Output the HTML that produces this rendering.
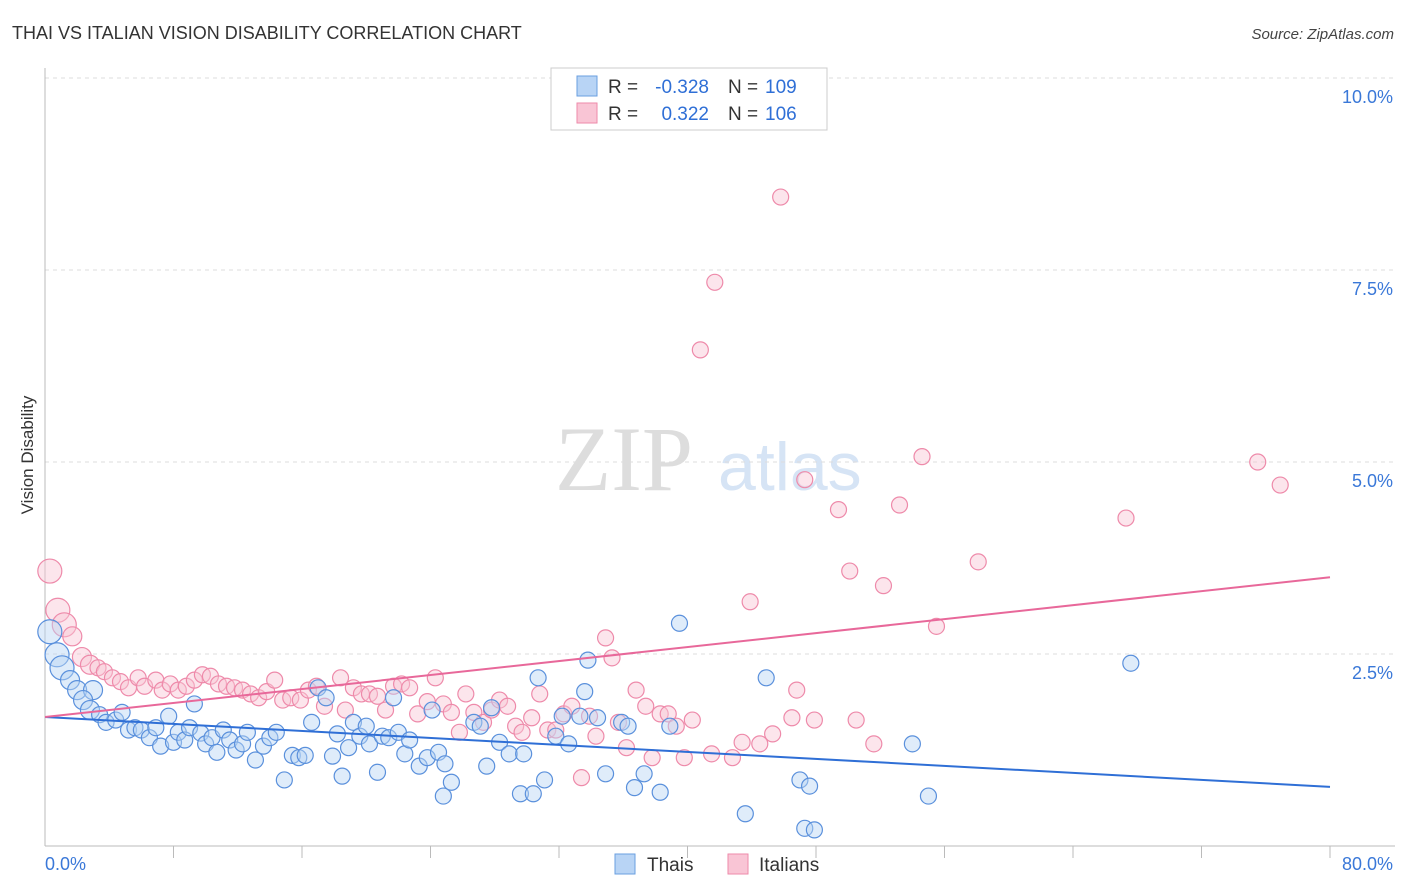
<!DOCTYPE html>
<html><head><meta charset="utf-8"><style>
body{margin:0;background:#fff;font-family:"Liberation Sans",sans-serif;}
svg{display:block}
</style></head><body>
<svg id="chart" width="1406" height="892" xmlns="http://www.w3.org/2000/svg">
<text x="12" y="39" font-size="18" fill="#333">THAI VS ITALIAN VISION DISABILITY CORRELATION CHART</text>
<text x="1394" y="39" font-size="15" fill="#444" text-anchor="end" font-style="italic">Source: ZipAtlas.com</text>
<text transform="translate(33,455) rotate(-90)" font-size="17" fill="#333" text-anchor="middle">Vision Disability</text>
<g>
<text x="555" y="490" font-size="92" fill="#ddd" font-family="Liberation Serif,serif">ZIP</text>
<text x="718" y="490" font-size="68" fill="#d6e4f5">atlas</text>
</g>
<g id="grid"></g><g id="marks"></g>
<g>
<rect x="551" y="68" width="276" height="62" fill="#fff" stroke="#ccc"/>
<rect x="577" y="76" width="20" height="20" fill="#b8d4f5" stroke="#6a9fe0"/>
<rect x="577" y="103" width="20" height="20" fill="#f9c5d5" stroke="#ee8aaa"/>
<text x="608" y="93" font-size="19" fill="#333">R =</text>
<text x="709" y="93" font-size="19" fill="#2f6fd6" text-anchor="end">-0.328</text>
<text x="728" y="93" font-size="19" fill="#333">N =</text>
<text x="765" y="93" font-size="19" fill="#2f6fd6">109</text>
<text x="608" y="120" font-size="19" fill="#333">R =</text>
<text x="709" y="120" font-size="19" fill="#2f6fd6" text-anchor="end">0.322</text>
<text x="728" y="120" font-size="19" fill="#333">N =</text>
<text x="765" y="120" font-size="19" fill="#2f6fd6">106</text>
</g>
<g>
<rect x="615" y="854" width="20" height="20" fill="#b8d4f5" stroke="#6a9fe0"/>
<text x="647" y="871" font-size="19" fill="#333">Thais</text>
<rect x="728" y="854" width="20" height="20" fill="#f9c5d5" stroke="#ee8aaa"/>
<text x="759" y="871" font-size="19" fill="#333">Italians</text>
</g>
</svg>
<script>
const yTicks=[2.5,5,7.5,10];
const yTickLabels=["2.5%","5.0%","7.5%","10.0%"];
const xTicks=[0,8,16,24,32,40,48,56,64,72,80];
const thaiX=[0.3,0.75,1.06,1.56,2.0,2.99,2.37,2.8,3.4,3.8,4.4,4.8,5.2,5.6,6.0,6.5,6.9,7.2,7.7,8.0,8.3,8.7,9.0,9.3,9.7,10.0,10.4,10.7,11.1,11.5,11.9,12.3,12.6,13.1,13.6,14.0,14.4,14.9,15.4,15.8,16.2,16.6,17.0,17.5,17.9,18.2,18.5,18.9,19.2,19.6,20.0,20.2,20.7,21.0,21.4,21.7,22.0,22.4,22.7,23.3,23.8,24.1,24.5,24.9,24.8,25.3,26.7,27.1,27.5,27.8,28.3,28.9,29.6,29.8,30.4,30.7,31.1,31.8,32.2,32.6,33.3,33.6,33.8,34.4,34.9,35.9,36.3,36.7,37.3,38.3,38.9,39.5,43.6,44.9,47.0,47.6,47.3,47.9,54.0,55.0,67.6];
const thaiY=[2.79,2.49,2.32,2.16,2.03,2.03,1.90,1.77,1.71,1.61,1.64,1.74,1.51,1.54,1.51,1.41,1.54,1.30,1.69,1.35,1.48,1.38,1.54,1.85,1.47,1.33,1.41,1.22,1.51,1.38,1.25,1.33,1.48,1.12,1.30,1.41,1.48,0.86,1.18,1.15,1.18,1.61,2.06,1.93,1.17,1.46,0.91,1.28,1.61,1.43,1.56,1.33,0.96,1.43,1.41,1.93,1.48,1.20,1.38,1.04,1.15,1.77,1.22,1.07,0.65,0.83,1.61,1.56,1.04,1.80,1.35,1.20,0.68,1.20,0.68,2.19,0.86,1.43,1.69,1.33,1.69,2.01,2.42,1.67,0.94,1.61,1.56,0.76,0.94,0.70,1.56,2.90,0.42,2.19,0.86,0.78,0.23,0.21,1.33,0.65,2.38];
const itaX=[0.3,0.8,1.2,1.7,2.3,2.8,3.3,3.7,4.2,4.7,5.2,5.8,6.2,6.9,7.3,7.8,8.3,8.8,9.3,9.8,10.3,10.8,11.3,11.8,12.3,12.8,13.3,13.8,14.3,14.8,15.3,15.9,16.4,16.9,17.4,18.4,18.7,19.2,19.7,20.2,20.7,21.2,21.7,22.2,22.7,23.2,23.8,24.3,24.8,25.3,25.8,26.2,26.7,27.3,27.8,28.3,28.8,29.3,29.7,30.3,30.8,31.3,31.8,32.3,32.8,33.4,33.9,34.3,34.9,35.3,35.7,36.2,36.8,37.4,37.8,38.3,38.8,39.3,39.8,40.3,40.8,41.7,41.5,42.8,43.4,43.9,44.5,45.3,45.8,46.5,46.8,47.3,47.9,49.4,50.1,50.5,51.6,52.2,53.2,54.6,55.5,58.1,67.3,75.5,76.9];
const itaY=[3.58,3.07,2.88,2.73,2.46,2.36,2.32,2.27,2.19,2.14,2.06,2.19,2.08,2.16,2.03,2.11,2.03,2.08,2.16,2.23,2.21,2.11,2.08,2.06,2.03,1.98,1.93,2.01,2.16,1.90,1.93,1.90,2.03,2.08,1.82,2.19,1.77,2.06,1.98,1.98,1.95,1.77,2.08,2.11,2.06,1.72,1.88,2.19,1.85,1.74,1.48,1.98,1.74,1.61,1.77,1.90,1.82,1.56,1.48,1.67,1.98,1.51,1.51,1.72,1.82,0.89,1.69,1.43,2.71,2.45,1.61,1.28,2.03,1.82,1.15,1.72,1.72,1.56,1.15,1.64,6.46,7.34,1.20,1.15,1.35,3.18,1.33,1.46,8.45,1.67,2.03,4.77,1.64,4.38,3.58,1.64,1.33,3.39,4.44,5.07,2.86,3.70,4.27,5.00,4.70];
const thaiTrend=[1.68,0.77];
const itaTrend=[1.68,3.5];
const X0=45,X1=1330,Y0=846,Ytop=78;
const sx=v=>X0+(X1-X0)*v/80;
const sy=v=>Y0-(Y0-Ytop)*v/10;
const NS="http://www.w3.org/2000/svg";
function mk(t,a,p){const e=document.createElementNS(NS,t);for(const k in a)e.setAttribute(k,a[k]);p.appendChild(e);return e;}
const grid=document.getElementById('grid'),marks=document.getElementById('marks');
yTicks.forEach((t,i)=>{
 const l=mk('line',{x1:X0,x2:1395,y1:sy(t),y2:sy(t),stroke:'#ddd','stroke-dasharray':'4,4'},grid);
 
 
 const tx=mk('text',{x:1393,y:sy(t)+25,'font-size':18,fill:'#3a78d8','text-anchor':'end'},grid);
 tx.textContent=yTickLabels[i];
 
 
});
const ax=mk('line',{x1:X0,x2:X0,y1:68,y2:Y0,stroke:'#bbb'},grid);


const bx=mk('line',{x1:X0,x2:X1+65,y1:Y0,y2:Y0,stroke:'#bbb'},grid);


xTicks.forEach(t=>{if(t===0)return;
 const l=mk('line',{x1:sx(t),x2:sx(t),y1:Y0,y2:Y0+12,stroke:'#bbb'},grid);
 
 
});
[[0,"0.0%",'start',45],[80,"80.0%",'end',1393]].forEach(d=>{
 const tx=mk('text',{x:d[3],y:870,'font-size':18,fill:'#3a78d8','text-anchor':d[2]},grid);
 tx.textContent=d[1];
 
 
});
function pts(xs,ys,fill,stroke,name){
 xs.forEach((x,i)=>{
  const r=x<1.3?12:(x<3?9.5:8);
  const c=mk('circle',{cx:sx(x),cy:sy(ys[i]),r:r,fill:fill,'fill-opacity':0.45,stroke:stroke,'stroke-width':1.2},marks);
  
  
 });
}
pts(itaX,itaY,'#f9c5d5','#ee8aaa','italian-point');
pts(thaiX,thaiY,'#b8d4f5','#5a90dc','thai-point');
const t1=mk('line',{x1:sx(0),x2:sx(80),y1:sy(thaiTrend[0]),y2:sy(thaiTrend[1]),stroke:'#2f6fd6','stroke-width':2},marks);


const t2=mk('line',{x1:sx(0),x2:sx(80),y1:sy(itaTrend[0]),y2:sy(itaTrend[1]),stroke:'#e8689a','stroke-width':2},marks);


</script>
</body></html>
